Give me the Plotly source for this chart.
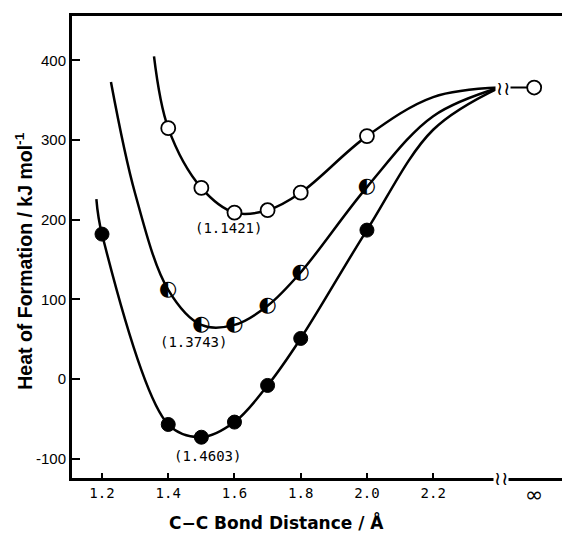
import plotly.graph_objects as go

# bond distances (Angstrom) of the computed points
dist = [1.4, 1.5, 1.6, 1.7, 1.8, 2.0]
dist_filled = [1.2, 1.4, 1.5, 1.6, 1.7, 1.8, 2.0]

# heats of formation, kJ/mol
hf_open = [315, 240, 209, 212, 234, 305]
hf_half = [112, 68, 68, 92, 134, 241]
hf_filled = [182, -57, -73, -54, -8, 51, 187]

# extra points (tails beyond the markers)
open_tail_l = ([1.357], [405])
open_tail_r = ([2.2, 2.40], [354, 366])
half_tail_l = ([1.227, 1.3], [373, 233])
half_tail_r = ([2.2, 2.40], [330, 366])
filled_tail_l = ([1.183], [226])
filled_tail_r = ([2.2, 2.40], [313, 366])

# dissociated limit (plotted at the "infinity" position)
inf_x = [2.505]
inf_y = [366]

minima_labels = ["(1.1421)", "(1.3743)", "(1.4603)"]
minima_pos = [(1.581, 190), (1.475, 46), (1.52, -96)]

xticks = [1.2, 1.4, 1.6, 1.8, 2.0, 2.2]
xtick_text = ["1.2", "1.4", "1.6", "1.8", "2.0", "2.2"]
yticks = [400, 300, 200, 100, 0, -100]
ytick_text = ["400", "300", "200", "100", "0", "-100"]

LINE = dict(color="black", width=2.5)

fig = go.Figure()

open_x = open_tail_l[0] + dist + open_tail_r[0]
open_y = open_tail_l[1] + hf_open + open_tail_r[1]
half_x = half_tail_l[0] + dist + half_tail_r[0]
half_y = half_tail_l[1] + hf_half + half_tail_r[1]
filled_x = filled_tail_l[0] + dist_filled + filled_tail_r[0]
filled_y = filled_tail_l[1] + hf_filled + filled_tail_r[1]

for cx, cy in [(open_x, open_y), (half_x, half_y), (filled_x, filled_y)]:
    fig.add_trace(go.Scatter(x=cx, y=cy, mode="lines", line=dict(LINE, shape="spline", smoothing=1.0),
                             hoverinfo="skip"))

# joining line out to infinity
fig.add_trace(go.Scatter(x=[open_tail_r[0][-1]] + inf_x, y=[open_tail_r[1][-1]] + inf_y, mode="lines",
                         line=dict(color="black", width=2)))

fig.add_trace(go.Scatter(x=dist + inf_x, y=hf_open + inf_y, mode="markers",
                         marker=dict(symbol="circle", size=14, color="white",
                                     line=dict(color="black", width=1.8))))
fig.add_trace(go.Scatter(x=dist_filled, y=hf_filled, mode="markers",
                         marker=dict(symbol="circle", size=14, color="black",
                                     line=dict(color="black", width=1))))
# half filled circles drawn as a glyph
fig.add_trace(go.Scatter(x=dist, y=hf_half, mode="text", text=["◐"] * len(dist),
                         textposition="middle center",
                         textfont=dict(family="DejaVu Sans", size=21, color="black")))

for txt, (lx, ly) in zip(minima_labels, minima_pos):
    fig.add_annotation(x=lx, y=ly, text=txt, showarrow=False,
                       font=dict(family="DejaVu Sans Mono", size=14, color="black"))

# axis breaks
fig.add_annotation(x=2.405, y=0, yref="paper", yanchor="middle", text="≀≀", showarrow=False,
                   bgcolor="white", borderpad=0,
                   font=dict(family="DejaVu Sans", size=19, color="black"))
fig.add_annotation(x=2.41, y=inf_y[0], yanchor="middle", text="≀≀", showarrow=False,
                   bgcolor="white", borderpad=0,
                   font=dict(family="DejaVu Sans", size=19, color="black"))
fig.add_annotation(x=inf_x[0], y=0, yref="paper", yanchor="middle", yshift=-16, text="∞",
                   showarrow=False, font=dict(family="DejaVu Sans", size=22, color="black"))

fig.add_annotation(x=0.418, xref="paper", y=0, yref="paper", yanchor="middle", yshift=-44,
                   text="<b>C−C Bond Distance / Å</b>", showarrow=False,
                   font=dict(family="DejaVu Sans", size=17, color="black"))
fig.add_annotation(x=0, xref="paper", xanchor="center", xshift=-48, y=0.468, yref="paper",
                   yanchor="middle", textangle=-90,
                   text="<b>Heat of Formation / kJ mol<sup>-1</sup></b>", showarrow=False,
                   font=dict(family="Liberation Sans", size=19.5, color="black"))

fig.update_xaxes(range=[1.1094, 2.589], showgrid=False, zeroline=False,
                 showline=True, linecolor="black", linewidth=3, mirror=True,
                 tickvals=xticks, ticktext=xtick_text, ticks="inside", ticklen=5,
                 tickwidth=1.5, tickcolor="black",
                 tickfont=dict(family="DejaVu Sans Mono", size=14, color="black"))
fig.update_yaxes(range=[-124.2, 455.8], showgrid=False, zeroline=False,
                 showline=True, linecolor="black", linewidth=3,
                 tickvals=yticks, ticktext=ytick_text, ticks="inside", ticklen=8,
                 tickwidth=2, tickcolor="black",
                 tickfont=dict(family="Liberation Sans", size=15, color="black"))

fig.update_layout(width=562, height=541, showlegend=False,
                  margin=dict(l=72, r=0, t=16, b=63),
                  plot_bgcolor="white", paper_bgcolor="white")

fig.write_html("out.html", config={"displayModeBar": False},
               post_script="document.body.style.margin='0';document.body.style.overflow='hidden';")
